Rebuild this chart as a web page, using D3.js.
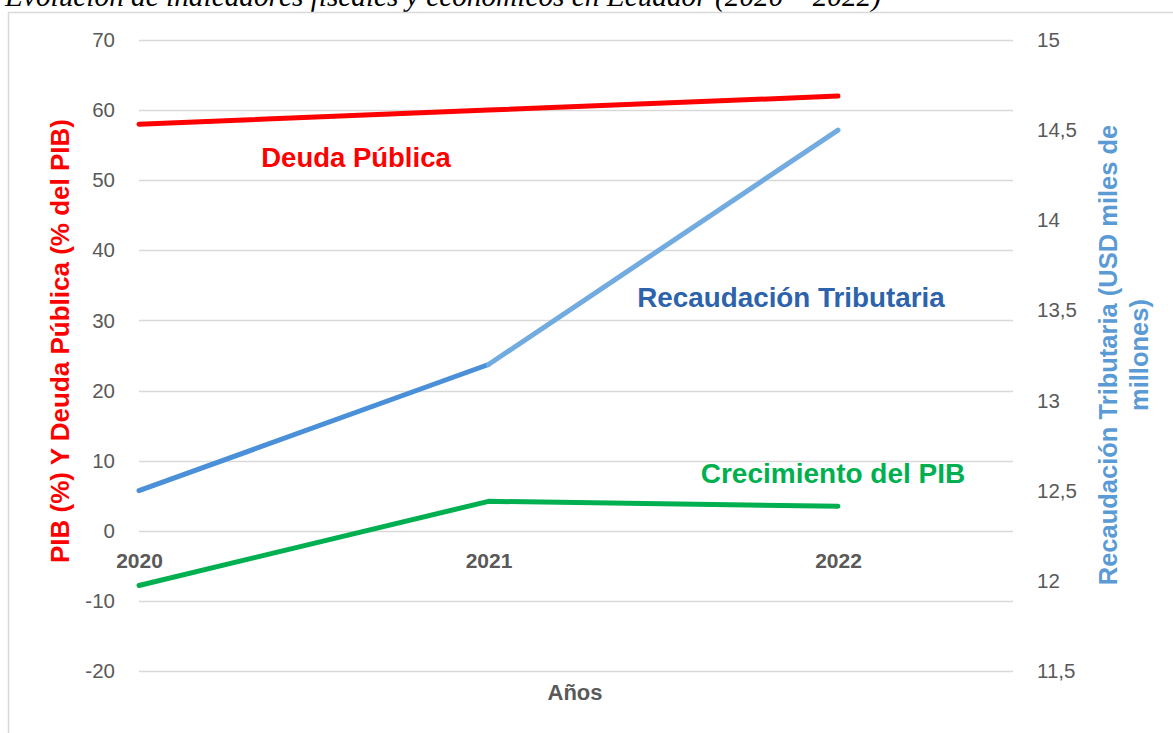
<!DOCTYPE html>
<html>
<head>
<meta charset="utf-8">
<script src="https://cdn.jsdelivr.net/npm/d3@7"></script>
<style>
  html, body { margin: 0; padding: 0; background: #fff; overflow: hidden; }
  svg { display: block; }
</style>
</head>
<body>
<div id="chart"></div>
<script>
// Data
const years = [2020, 2021, 2022];
const deudaPublica = [58, 60, 62];          // % del PIB
const crecimientoPIB = [-7.8, 4.2, 3.5];    // %
const recaudacion = [12.5, 13.2, 14.5];     // USD miles de millones
const recaudacionColors = ['#4a90d9', '#72abe0'];
const leftTicks = [-20, -10, 0, 10, 20, 30, 40, 50, 60, 70];
const rightTicks = [11.5, 12, 12.5, 13, 13.5, 14, 14.5, 15];

const width = 1173, height = 733;
const margin = { top: 40, left: 139 };
const innerW = 874, innerH = 631;

const svg = d3.select('#chart').append('svg')
  .attr('width', width)
  .attr('height', height);

// Title (clipped at top like the source)
svg.append('text')
  .attr('x', 5)
  .attr('y', 6)
  .attr('font-family', 'Liberation Serif, serif')
  .attr('font-style', 'italic')
  .attr('font-size', 29.3)
  .attr('fill', '#000')
  .text('Evolución de indicadores fiscales y económicos en Ecuador (2020 – 2022)');

// Chart frame
svg.append('rect')
  .attr('x', 8.5).attr('y', 12.5)
  .attr('width', 1300).attr('height', 900)
  .attr('fill', 'none')
  .attr('stroke', '#d9d9d9')
  .attr('stroke-width', 1.5);

const g = svg.append('g').attr('transform', `translate(${margin.left},${margin.top})`);

// Scales
const x = d3.scaleLinear().domain([2020, 2022]).range([0, 699]);
const yL = d3.scaleLinear().domain([-20, 70]).range([innerH, 0]);
const yR = d3.scaleLinear().domain([11.5, 15]).range([innerH, 0]);

// Gridlines
g.selectAll('line.grid')
  .data(leftTicks)
  .join('line')
  .attr('class', 'grid')
  .attr('x1', 0).attr('x2', innerW)
  .attr('y1', d => Math.round(yL(d)) + 0.5)
  .attr('y2', d => Math.round(yL(d)) + 0.5)
  .attr('stroke', '#d9d9d9')
  .attr('stroke-width', 1.5);

const tickFont = 'Liberation Sans, Arial, sans-serif';

// Left axis
const leftAxis = g.append('g')
  .call(d3.axisLeft(yL).tickValues(leftTicks).tickSize(0).tickPadding(24)
    .tickFormat(d => String(d)));
leftAxis.select('.domain').remove();
leftAxis.selectAll('text')
  .attr('font-family', tickFont)
  .attr('font-size', 20.5)
  .attr('fill', '#595959');

// Right axis
const rightAxis = g.append('g')
  .attr('transform', `translate(${innerW},0)`)
  .call(d3.axisRight(yR).tickValues(rightTicks).tickSize(0).tickPadding(24)
    .tickFormat(d => String(d).replace('.', ',')));
rightAxis.select('.domain').remove();
rightAxis.selectAll('text')
  .attr('font-family', tickFont)
  .attr('font-size', 20.5)
  .attr('fill', '#595959');

// Category labels (axis crosses at 0)
const xAxis = g.append('g')
  .attr('transform', `translate(0,${yL(0)})`)
  .call(d3.axisBottom(x).tickValues(years).tickSize(0).tickPadding(22).tickFormat(d3.format('d')));
xAxis.select('.domain').remove();
xAxis.selectAll('text')
  .attr('font-family', tickFont)
  .attr('font-weight', 'bold')
  .attr('font-size', 21)
  .attr('fill', '#595959');

// Lines
const lineL = d3.line().x((d, i) => x(years[i])).y(d => yL(d));

g.append('path')
  .datum(deudaPublica)
  .attr('d', lineL)
  .attr('fill', 'none')
  .attr('stroke', '#ff0000')
  .attr('stroke-width', 5)
  .attr('stroke-linecap', 'round')
  .attr('stroke-linejoin', 'round');

g.append('path')
  .datum(crecimientoPIB)
  .attr('d', lineL)
  .attr('fill', 'none')
  .attr('stroke', '#00b050')
  .attr('stroke-width', 5)
  .attr('stroke-linecap', 'round')
  .attr('stroke-linejoin', 'round');

// Recaudación: two segments with different shades
const recSegments = d3.pairs(recaudacion.map((v, i) => ({ year: years[i], v })));
g.selectAll('line.rec')
  .data(recSegments)
  .join('line')
  .attr('class', 'rec')
  .attr('x1', d => x(d[0].year)).attr('y1', d => yR(d[0].v))
  .attr('x2', d => x(d[1].year)).attr('y2', d => yR(d[1].v))
  .attr('stroke', (d, i) => recaudacionColors[i])
  .attr('stroke-width', 5)
  .attr('stroke-linecap', 'round');

// Series labels
const labelFont = 'Liberation Sans, Arial, sans-serif';
svg.append('text')
  .attr('x', 356).attr('y', 167)
  .attr('text-anchor', 'middle')
  .attr('font-family', labelFont).attr('font-weight', 'bold').attr('font-size', 27.5)
  .attr('fill', '#ff0000')
  .text('Deuda Pública');

svg.append('text')
  .attr('x', 791).attr('y', 307)
  .attr('text-anchor', 'middle')
  .attr('font-family', labelFont).attr('font-weight', 'bold').attr('font-size', 27.8)
  .attr('fill', '#2d63ab')
  .text('Recaudación Tributaria');

svg.append('text')
  .attr('x', 833).attr('y', 483)
  .attr('text-anchor', 'middle')
  .attr('font-family', labelFont).attr('font-weight', 'bold').attr('font-size', 28)
  .attr('fill', '#00b050')
  .text('Crecimiento del PIB');

// Axis titles
svg.append('text')
  .attr('transform', 'translate(69,341) rotate(-90)')
  .attr('text-anchor', 'middle')
  .attr('font-family', labelFont).attr('font-weight', 'bold').attr('font-size', 26)
  .attr('fill', '#ff0000')
  .text('PIB (%) Y Deuda Pública (% del PIB)');

const rt = svg.append('text')
  .attr('transform', 'translate(1117,355) rotate(-90)')
  .attr('text-anchor', 'middle')
  .attr('font-family', labelFont).attr('font-weight', 'bold').attr('font-size', 25.5)
  .attr('fill', '#5b9bd5');
rt.append('tspan').attr('x', 0).attr('dy', 0).text('Recaudación Tributaria (USD miles de');
rt.append('tspan').attr('x', 0).attr('dy', 31).text('millones)');

svg.append('text')
  .attr('x', 575).attr('y', 700)
  .attr('text-anchor', 'middle')
  .attr('font-family', labelFont).attr('font-weight', 'bold').attr('font-size', 22)
  .attr('fill', '#595959')
  .text('Años');
</script>
</body>
</html>
